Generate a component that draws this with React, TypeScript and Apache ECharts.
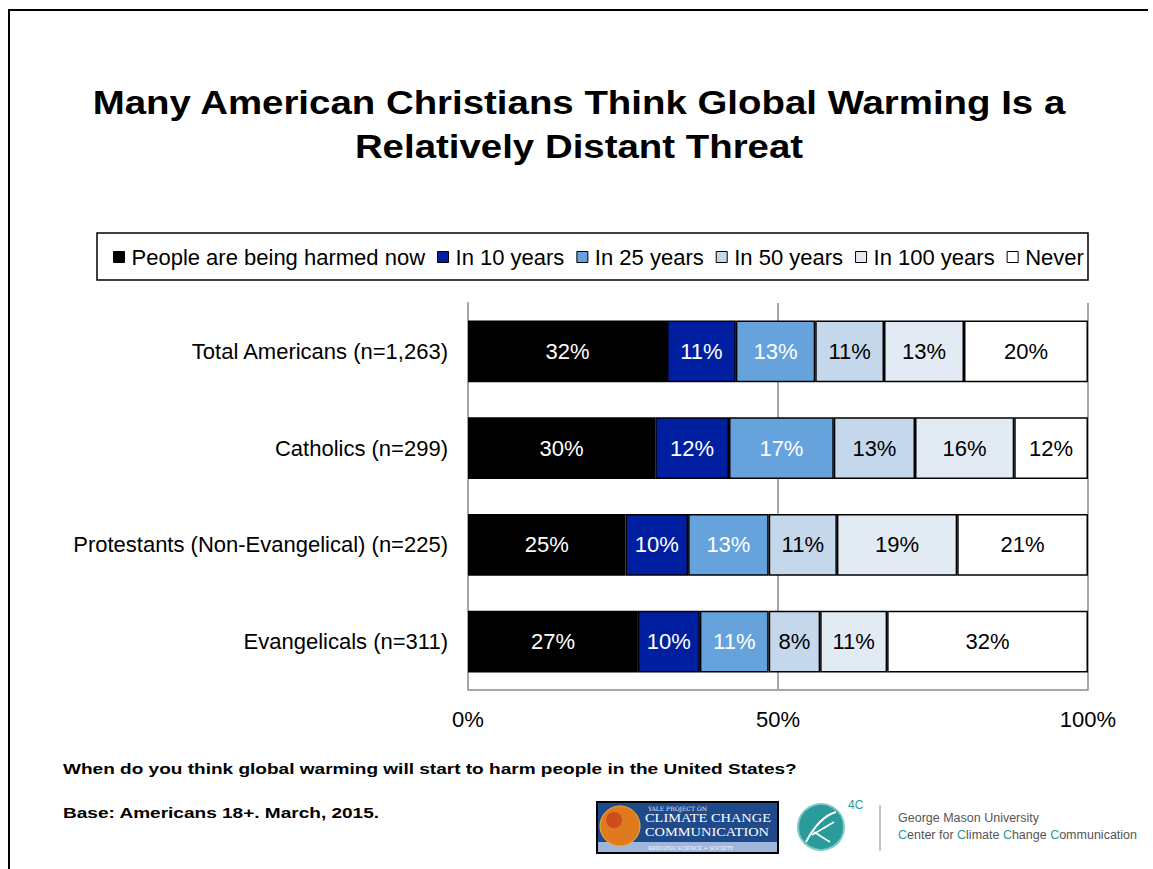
import React, { useEffect, useRef } from "react";
import * as echarts from "echarts";

const categories = [
  "Total Americans (n=1,263)",
  "Catholics (n=299)",
  "Protestants (Non-Evangelical) (n=225)",
  "Evangelicals (n=311)",
];
const seriesNames = [
  "People are being harmed now",
  "In 10 years",
  "In 25 years",
  "In 50 years",
  "In 100 years",
  "Never",
];
const harmedNow = [32.1, 30.2, 25.4, 27.4];
const in10 = [11.1, 11.9, 10.1, 10.0];
const in25 = [12.8, 16.9, 13.0, 11.1];
const in50 = [11.1, 13.1, 11.0, 8.3];
const in100 = [12.9, 16.0, 19.4, 10.8];
const never = [20.0, 11.9, 21.1, 32.4];
const seriesValues = [harmedNow, in10, in25, in50, in100, never];
const seriesColors = ["#000000", "#001EA0", "#66A3DC", "#C5D7EB", "#E2EAF4", "#FFFFFF"];
const labelColors = ["#FFFFFF", "#FFFFFF", "#FFFFFF", "#000000", "#000000", "#000000"];
const xTicks = [0, 50, 100];

const FONT = "'Liberation Sans', Arial, Helvetica, sans-serif";

export default function App() {
  const ref = useRef<HTMLDivElement>(null);
  useEffect(() => {
    document.body.style.margin = "0";
    if (!ref.current) return;
    const chart = echarts.init(ref.current, null, { renderer: "svg" });
    const option: any = {
      animation: false,
      backgroundColor: "#FFFFFF",
      textStyle: { fontFamily: FONT },
      legend: {
        data: seriesNames,
        left: 108,
        top: 245,
        padding: [0, 5],
        itemWidth: 11,
        itemHeight: 11,
        itemGap: 12,
        icon: "rect",
        itemStyle: { borderColor: "#000", borderWidth: 1 },
        textStyle: { fontSize: 22, color: "#000", fontFamily: FONT, lineHeight: 24, padding: [0, 0, 0, 2] },
      },
      grid: { left: 468, right: 65, top: 303, bottom: 179, containLabel: false },
      xAxis: {
        type: "value",
        min: xTicks[0],
        max: xTicks[xTicks.length - 1],
        interval: 50,
        axisLine: { show: true, lineStyle: { color: "#A6A6A6", width: 2 } },
        axisTick: { show: false },
        splitLine: { show: true, lineStyle: { color: "#A6A6A6", width: 2 } },
        axisLabel: { formatter: "{value}%", fontSize: 22, color: "#000", margin: 18, fontFamily: FONT },
      },
      yAxis: {
        type: "category",
        data: categories,
        inverse: true,
        axisLine: { show: true, lineStyle: { color: "#A6A6A6", width: 2 } },
        axisTick: { show: false },
        axisLabel: { fontSize: 22, color: "#000", margin: 20, fontFamily: FONT },
      },
      series: seriesNames.map((name, i) => ({
        name,
        type: "bar",
        stack: "total",
        barWidth: "64%",
        data: seriesValues[i],
        itemStyle: { color: seriesColors[i], borderColor: "#000", borderWidth: 1.5 },
        label: {
          show: true,
          position: "inside",
          fontSize: 22,
          color: labelColors[i],
          fontFamily: FONT,
          formatter: (p: any) => Math.round(p.value) + "%",
        },
      })),
      graphic: [
        {
          type: "polyline",
          shape: { points: [[9, 869], [9, 10], [1148, 10]] },
          style: { stroke: "#000", lineWidth: 2, fill: null },
          silent: true,
        },
        {
          type: "text",
          x: 579,
          y: 80,
          scaleX: 1.13,
          style: {
            text: "Many American Christians Think Global Warming Is a\nRelatively Distant Threat",
            font: "bold 34px " + FONT,
            fill: "#000",
            textAlign: "center",
            lineHeight: 44,
          },
        },
        {
          type: "rect",
          shape: { x: 97, y: 233, width: 991, height: 47 },
          style: { fill: null, stroke: "#000", lineWidth: 1.5 },
          silent: true,
          z: -1,
        },
        {
          type: "text",
          x: 63,
          y: 761,
          scaleX: 1.27,
          style: {
            text: "When do you think global warming will start to harm people in the United States?",
            font: "bold 15px " + FONT,
            fill: "#000",
          },
        },
        {
          type: "text",
          x: 63,
          y: 805,
          scaleX: 1.27,
          style: { text: "Base: Americans 18+. March, 2015.", font: "bold 15px " + FONT, fill: "#000" },
        },
        // Yale logo
        {
          type: "group",
          children: [
            { type: "rect", shape: { x: 597, y: 802, width: 181, height: 51 }, style: { fill: "#1E4A8C", stroke: "#000", lineWidth: 2 } },
            { type: "rect", shape: { x: 598, y: 842, width: 179, height: 10 }, style: { fill: "#9FB7DC" } },
            { type: "circle", shape: { cx: 620, cy: 826, r: 20 }, style: { fill: "#E07A1F", stroke: "#F2B134", lineWidth: 1 } },
            { type: "circle", shape: { cx: 614, cy: 820, r: 8 }, style: { fill: "#C8421C", opacity: 0.8 } },
            { type: "text", x: 648, y: 805, style: { text: "YALE PROJECT ON", font: "6px 'DejaVu Serif', serif", fill: "#E8ECF5" } },
            { type: "text", x: 645, y: 812, scaleX: 1.2, style: { text: "CLIMATE CHANGE", font: "12px 'Liberation Serif', serif", fill: "#FFFFFF" } },
            { type: "text", x: 645, y: 826, scaleX: 1.2, style: { text: "COMMUNICATION", font: "12px 'Liberation Serif', serif", fill: "#FFFFFF" } },
            { type: "text", x: 648, y: 845, style: { text: "BRIDGING SCIENCE + SOCIETY", font: "5px 'DejaVu Serif', serif", fill: "#FFFFFF" } },
          ],
        },
        // 4C logo
        {
          type: "group",
          children: [
            { type: "circle", shape: { cx: 821, cy: 827, r: 23 }, style: { fill: "#2A9A9A", stroke: "#7FC8C8", lineWidth: 2 } },
            { type: "bezierCurve", shape: { x1: 806, y1: 842, x2: 836, y2: 812, cpx1: 815, cpy1: 825, cpx2: 825, cpy2: 815 }, style: { stroke: "#FFFFFF", lineWidth: 2, fill: null } },
            { type: "line", shape: { x1: 812, y1: 835, x2: 834, y2: 822 }, style: { stroke: "#FFFFFF", lineWidth: 1.5 } },
            { type: "line", shape: { x1: 814, y1: 832, x2: 830, y2: 842 }, style: { stroke: "#FFFFFF", lineWidth: 1.5 } },
            { type: "text", x: 848, y: 799, style: { text: "4C", font: "12px " + FONT, fill: "#2A9A9A" } },
            { type: "line", shape: { x1: 880, y1: 805, x2: 880, y2: 851 }, style: { stroke: "#888", lineWidth: 1 } },
            { type: "text", x: 898, y: 811, style: { text: "George Mason University", font: "12.5px " + FONT, fill: "#555" } },
            {
              type: "text",
              x: 898,
              y: 828,
              style: {
                text: "{c|C}enter for {c|C}limate {c|C}hange {c|C}ommunication",
                font: "12.5px " + FONT,
                fill: "#555",
                rich: { c: { fill: "#2A9A9A", fontSize: 12.5, fontFamily: FONT } },
              },
            },
          ],
        },
      ],
    };
    chart.setOption(option);
    return () => chart.dispose();
  }, []);
  return <div ref={ref} style={{ width: 1153, height: 869 }} />;
}
